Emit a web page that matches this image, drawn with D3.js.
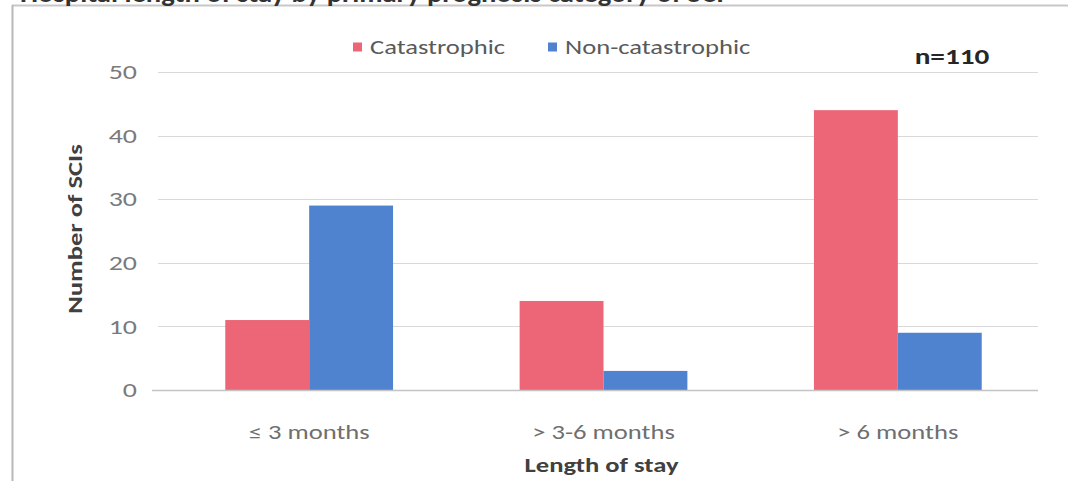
<!DOCTYPE html>
<html>
<head>
<meta charset="utf-8">
<script src="https://cdn.jsdelivr.net/npm/d3@7"></script>
<style>
  html, body { margin: 0; padding: 0; background: #ffffff; }
  svg { display: block; font-family: Carlito, Calibri, Lato, "Liberation Sans", sans-serif; }
</style>
</head>
<body>
<svg id="chart" width="1075" height="481"></svg>
<script>
// Length-of-stay groups and SCI counts per injury type
const categories = ["\u2264 3 months", "> 3-6 months", "> 6 months"];
const seriesNames = ["Catastrophic", "Non-catastrophic"];
const catastrophic = [11, 14, 44];
const nonCatastrophic = [29, 3, 9];
const yTicks = [0, 10, 20, 30, 40, 50];
const totalLabel = "n=110";
const titleText = "Hospital length of stay by primary prognosis category of SCI";
const xTitle = "Length of stay";
const yTitle = "Number of SCIs";

const colors = { "Catastrophic": "#ec6677", "Non-catastrophic": "#4f83cf" };
// The text face is set wide: glyphs are stretched horizontally
const stretch = 1.33;

const svg = d3.select("#chart");
const plot = { left: 162, right: 1045, top: 72, bottom: 390 };
const gridLeft = 158, gridRight = 1038;

// Chart frame (top edge and left edge)
svg.append("line").attr("x1", 12).attr("x2", 1068).attr("y1", 5.5).attr("y2", 5.5)
  .attr("stroke", "#c8c8c8").attr("stroke-width", 2);
svg.append("line").attr("x1", 12.5).attr("x2", 12.5).attr("y1", 5).attr("y2", 481)
  .attr("stroke", "#b8b8b8").attr("stroke-width", 2);

// Title, mostly above the visible area
svg.append("text").attr("transform", "translate(20,2) scale(1.1,1)")
  .attr("font-size", 26).attr("font-weight", "bold").attr("fill", "#333")
  .text(titleText);

const x0 = d3.scaleBand().domain(categories).range([plot.left, plot.right])
  .paddingInner(0.43).paddingOuter(0.215);
const x1 = d3.scaleBand().domain(seriesNames).range([0, x0.bandwidth()]);
const y = d3.scaleLinear().domain([0, 50]).range([plot.bottom, plot.top]);

// Gridlines
svg.append("g").selectAll("line").data(yTicks.filter(d => d > 0)).join("line")
  .attr("x1", gridLeft).attr("x2", gridRight)
  .attr("y1", d => Math.round(y(d)) + 0.5).attr("y2", d => Math.round(y(d)) + 0.5)
  .attr("stroke", "#d9d9d9").attr("stroke-width", 1.2);

// Y axis tick labels
const yAxis = d3.axisLeft(y).tickValues(yTicks).tickSize(0).tickPadding(0);
const yg = svg.append("g").attr("transform", "translate(137,0)").call(yAxis);
yg.select(".domain").remove();
yg.selectAll("text").attr("font-size", 21).attr("fill", "#7a7a7a")
  .attr("font-family", "Carlito, Calibri, Lato, sans-serif")
  .attr("transform", `scale(${stretch},1)`);

// Bars
const rows = categories.map((c, i) => ({
  cat: c,
  values: [
    { name: seriesNames[0], value: catastrophic[i] },
    { name: seriesNames[1], value: nonCatastrophic[i] }
  ]
}));
svg.append("g").selectAll("g").data(rows).join("g")
  .attr("transform", d => `translate(${x0(d.cat)},0)`)
  .selectAll("rect").data(d => d.values).join("rect")
  .attr("x", d => x1(d.name))
  .attr("width", x1.bandwidth())
  .attr("y", d => y(d.value))
  .attr("height", d => y(0) - y(d.value))
  .attr("fill", d => colors[d.name]);

// Baseline
svg.append("line").attr("x1", gridLeft - 6).attr("x2", gridRight)
  .attr("y1", y(0) + 0.5).attr("y2", y(0) + 0.5)
  .attr("stroke", "#c4c4c4").attr("stroke-width", 1.5);

// X axis category labels
const xAxis = d3.axisBottom(x0).tickSize(0).tickPadding(0);
const xg = svg.append("g").attr("transform", `translate(0,${plot.bottom + 35})`).call(xAxis);
xg.select(".domain").remove();
xg.selectAll("text").attr("font-size", 20).attr("fill", "#6f6f6f")
  .attr("font-family", "Carlito, Calibri, Lato, sans-serif")
  .attr("transform", `scale(${stretch},1)`);

// Axis titles
svg.append("text")
  .attr("transform", `translate(${(plot.left + plot.right) / 2 - 2},472) scale(${stretch},1)`)
  .attr("text-anchor", "middle").attr("font-size", 20).attr("font-weight", "bold")
  .attr("fill", "#404040").text(xTitle);
svg.append("text")
  .attr("transform", `translate(82,229) rotate(-90) scale(${stretch},1)`)
  .attr("text-anchor", "middle").attr("font-size", 20).attr("font-weight", "bold")
  .attr("fill", "#404040").text(yTitle);

// Legend
const legendX = [353, 548];
const lg = svg.append("g").selectAll("g").data(seriesNames).join("g")
  .attr("transform", (d, i) => `translate(${legendX[i]},47)`);
lg.append("rect").attr("x", 0).attr("y", -4.5).attr("width", 9).attr("height", 9)
  .attr("fill", d => colors[d]);
lg.append("text").attr("transform", `translate(17,0) scale(${stretch},1)`).attr("dy", "0.35em")
  .attr("font-size", 20).attr("fill", "#5a5a5a").text(d => d);

// Sample size
svg.append("text").attr("transform", `translate(952,64) scale(${stretch},1)`)
  .attr("text-anchor", "middle")
  .attr("font-size", 22).attr("font-weight", "bold").attr("fill", "#262626")
  .text(totalLabel);
</script>
</body>
</html>
